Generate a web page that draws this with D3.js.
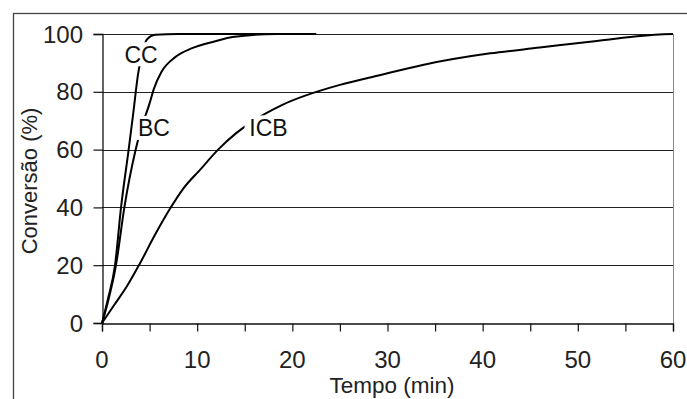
<!DOCTYPE html>
<html>
<head>
<meta charset="utf-8">
<script src="https://cdn.jsdelivr.net/npm/d3@7"></script>
<style>
  html, body { margin: 0; padding: 0; background: #fff; }
  svg { display: block; font-family: Arial, "Liberation Sans", sans-serif; }
</style>
</head>
<body>
<div id="chart"></div>
<script>
// Series data: [tempo (min), conversão (%)]
const ccData = [[0, 0], [0.6, 8], [1.37, 20], [2.0, 40], [2.8, 60], [3.3, 73], [3.8, 86.4],
  [4.2, 93], [4.7, 98], [5.6, 99.7], [8, 100], [22.5, 100]];
const bcData = [[0, 0], [0.6, 7], [1.47, 20], [2.35, 40], [3.54, 60], [4.0, 66], [5.0, 76],
  [5.45, 81], [6.27, 87], [7.7, 92], [9.4, 95], [11.9, 97.5], [13.7, 99], [18.4, 100], [22.5, 100]];
const icbData = [[0, 0], [1.3, 6.3], [2.6, 12.6], [4.0, 20.7], [5.57, 30.5], [7.14, 39.5], [8.54, 46.5],
  [10.3, 53], [12.2, 60], [14.1, 65.7], [15.5, 69.1], [18.9, 75.4], [25, 82.4], [28.5, 85.2],
  [33.7, 89.3], [40.8, 93.3], [46, 95.3], [52, 97.6], [59, 99.9], [60, 100]];

const seriesNames = ['CC', 'BC', 'ICB'];
// label anchor points (tempo, conversão)
const labelPos = [[4.1, 93], [5.46, 67.5], [17.5, 67.7]];

const xTicks = [0, 10, 20, 30, 40, 50, 60];
const xMinorTicks = d3.range(0, 61, 5);
const yTicks = [0, 20, 40, 60, 80, 100];

const width = 687, height = 399;
const margin = { left: 102, right: 14, top: 34, bottom: 76 };

const svg = d3.select('#chart').append('svg')
  .attr('width', width)
  .attr('height', height);

// outer frame
svg.append('rect')
  .attr('x', 13.5).attr('y', 13.5)
  .attr('width', 690).attr('height', 400)
  .attr('fill', 'none')
  .attr('stroke', '#444')
  .attr('stroke-width', 1.3);

const x = d3.scaleLinear().domain([0, 60]).range([margin.left, width - margin.right]);
const y = d3.scaleLinear().domain([0, 100]).range([height - margin.bottom, margin.top]);

// gridlines
svg.append('g')
  .selectAll('line')
  .data(yTicks.filter(d => d > 0))
  .enter().append('line')
  .attr('x1', x(0)).attr('x2', x(60))
  .attr('y1', d => Math.round(y(d)) + 0.5)
  .attr('y2', d => Math.round(y(d)) + 0.5)
  .attr('stroke', '#222')
  .attr('stroke-width', 1);

// right border of plot area
svg.append('line')
  .attr('x1', Math.round(x(60)) + 0.5).attr('x2', Math.round(x(60)) + 0.5)
  .attr('y1', y(100)).attr('y2', y(0))
  .attr('stroke', '#888');

// x axis
const xAxis = svg.append('g')
  .attr('transform', `translate(0, ${Math.round(y(0)) + 0.5})`)
  .call(d3.axisBottom(x).tickValues(xMinorTicks).tickSize(8).tickFormat(''));
xAxis.select('.domain').attr('stroke', '#111').attr('stroke-width', 1.3);
xAxis.selectAll('.tick line').attr('stroke', '#111').attr('stroke-width', 1.2);

svg.append('g')
  .selectAll('text')
  .data(xTicks)
  .enter().append('text')
  .attr('x', d => x(d))
  .attr('y', 368)
  .attr('text-anchor', 'middle')
  .attr('font-size', 24)
  .attr('fill', '#222')
  .text(d => d);

// y axis
const yAxis = svg.append('g')
  .attr('transform', `translate(${Math.round(x(0)) + 0.5}, 0)`)
  .call(d3.axisLeft(y).tickValues(yTicks).tickSize(9).tickFormat(''));
yAxis.select('.domain').attr('stroke', '#111').attr('stroke-width', 1.3);
yAxis.selectAll('.tick line').attr('stroke', '#111').attr('stroke-width', 1.2);

svg.append('g')
  .selectAll('text')
  .data(yTicks)
  .enter().append('text')
  .attr('x', 83)
  .attr('y', d => y(d) + 8.5)
  .attr('text-anchor', 'end')
  .attr('font-size', 24)
  .attr('fill', '#222')
  .text(d => d);

// axis titles
svg.append('text')
  .attr('x', 392).attr('y', 393)
  .attr('text-anchor', 'middle')
  .attr('font-size', 22.5)
  .attr('fill', '#222')
  .text('Tempo (min)');

svg.append('text')
  .attr('transform', 'translate(37, 181) rotate(-90)')
  .attr('text-anchor', 'middle')
  .attr('font-size', 22)
  .attr('fill', '#222')
  .text('Conversão (%)');

// curves
const line = d3.line()
  .x(d => x(d[0]))
  .y(d => y(d[1]))
  .curve(d3.curveMonotoneX);

svg.append('g')
  .selectAll('path')
  .data([ccData, bcData, icbData])
  .enter().append('path')
  .attr('d', line)
  .attr('fill', 'none')
  .attr('stroke', '#000')
  .attr('stroke-width', 2);

// curve labels with white background
const labels = svg.append('g')
  .selectAll('g')
  .data(seriesNames)
  .enter().append('g')
  .attr('transform', (d, i) => `translate(${x(labelPos[i][0])}, ${y(labelPos[i][1])})`);

labels.append('rect')
  .attr('x', d => -d.length * 7 - 3)
  .attr('y', -12)
  .attr('width', d => d.length * 14 + 6)
  .attr('height', 24)
  .attr('fill', '#fff');

labels.append('text')
  .attr('text-anchor', 'middle')
  .attr('y', 8.5)
  .attr('font-size', 23)
  .attr('fill', '#111')
  .text(d => d);
</script>
</body>
</html>
